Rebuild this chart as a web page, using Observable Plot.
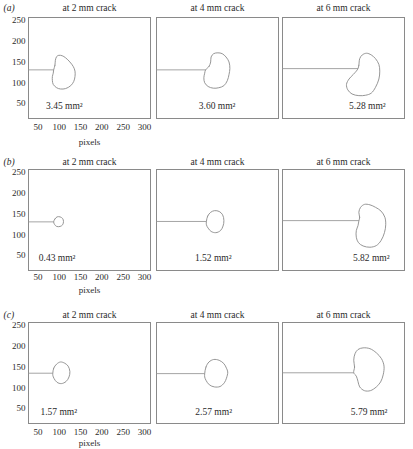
<!DOCTYPE html>
<html><head><meta charset="utf-8">
<script src="https://cdn.jsdelivr.net/npm/d3@7"></script>
<script src="https://cdn.jsdelivr.net/npm/@observablehq/plot@0.6"></script>
<style>
body{margin:0;background:#fff;}
#chart{position:relative;width:413px;height:449px;overflow:hidden;background:#fff;}
#chart svg{position:absolute;overflow:visible;}
</style></head><body><div id="chart"></div>
<script>
const rowLabels = ["(a)", "(b)", "(c)"];
const panelTitles = ["at 2 mm crack", "at 4 mm crack", "at 6 mm crack"];
const areaLabels = [["3.45 mm²", "3.60 mm²", "5.28 mm²"], ["0.43 mm²", "1.52 mm²", "5.82 mm²"], ["1.57 mm²", "2.57 mm²", "5.79 mm²"]];
const areaX = [[112, 170, 227], [95, 161, 236], [99, 162, 231]];
const areaY = [[43, 43, 43], [43, 43, 43], [41, 42, 42]];
const crackY = [[131, 131, 134], [131, 132, 134], [135, 134, 136]];
const crackTipX = [[87, 143, 205], [87, 145, 207], [85, 141, 195]];
const xTicks = [50, 100, 150, 200, 250, 300];
const yTicks = [50, 100, 150, 200, 250];
const xDomain = [28, 314];
const yDomain = [14, 257];

const blobA1 = [[87,131],[90,142],[91,154],[94,163],[99,166],[107,165],[115,160],[125,150],[133,139],[137,128],[137,115],[134,103],[127,93],[115,86],[103,85],[94,88],[86,96],[84,105],[84,115],[86,123]];
const blobA2 = [[143,131],[151,139],[155,150],[156,162],[162,170],[172,172],[182,170],[191,162],[198,150],[200,134],[198,120],[194,105],[186,93],[174,88],[161,87],[149,91],[141,100],[139,112],[141,123]];
const blobA3 = [[205,134],[207,142],[209,158],[215,167],[225,171],[236,167],[246,158],[254,144],[256,128],[254,109],[246,89],[236,75],[223,70],[207,69],[191,73],[181,83],[178,96],[184,109],[194,120],[201,128]];
const blobB1 = [[87,131],[90,138],[95,143],[102,143],[108,139],[110,132],[108,124],[102,120],[94,120],[89,125]];
const blobB2 = [[145,132],[148,145],[155,154],[164,158],[175,156],[183,148],[186,134],[184,121],[178,110],[167,105],[156,108],[149,116],[145,124]];
const blobB3 = [[207,133],[209,142],[207,154],[211,166],[220,173],[233,172],[246,166],[259,157],[268,142],[270,124],[267,105],[259,86],[248,74],[233,70],[217,73],[206,81],[201,94],[201,110],[205,122]];
const blobC1 = [[85,135],[87,147],[94,157],[103,162],[113,159],[121,152],[125,139],[123,126],[116,115],[105,110],[95,113],[88,122],[85,130]];
const blobC2 = [[141,134],[144,150],[151,162],[162,168],[175,166],[186,158],[192,147],[195,138],[192,123],[187,112],[177,103],[164,102],[152,107],[144,118],[141,126]];
const blobC3 = [[195,136],[197,150],[195,166],[198,182],[205,192],[217,196],[233,194],[248,184],[260,170],[266,152],[264,131],[258,114],[248,102],[234,93],[220,93],[209,102],[205,115],[201,128]];
const blobs = [[blobA1, blobA2, blobA3], [blobB1, blobB2, blobB3], [blobC1, blobC2, blobC3]];

// layout
const frameLeft = [28, 156, 282];
const frameTop = [17, 169, 322];
const frameW = 122, frameH = 101;
const titleDy = [-10, -8, -8];
const xTickPad = [5, 3, 5];
const xLabelOffset = [26, 22, 22];
const chart = document.getElementById("chart");
const ink = "#2a2a2a";
const gray = "#8a8a8a";
const thin = "#9a9a9a";

for (let r = 0; r < 3; r++) {
  for (let c = 0; c < 3; c++) {
    const first = c === 0;
    const mL = first ? 28 : 3, mR = 3, mT = 20, mB = first ? 28 : 3;
    const marks = [
      Plot.frame({stroke: gray, strokeWidth: 1}),
      Plot.link([{x1: xDomain[0], x2: crackTipX[r][c], y: crackY[r][c]}], {x1: "x1", x2: "x2", y1: "y", y2: "y", stroke: thin, strokeWidth: 0.9}),
      Plot.line(blobs[r][c], {x: d => d[0], y: d => d[1], curve: "catmull-rom-closed", stroke: gray, strokeWidth: 0.9}),
      Plot.text([{x: areaX[r][c], y: areaY[r][c], t: areaLabels[r][c]}], {x: "x", y: "y", text: "t", fontSize: 9.5, fill: ink}),
      Plot.text([panelTitles[c]], {frameAnchor: "top", dy: titleDy[r], lineAnchor: "middle", fontSize: 9.5, fill: ink})
    ];
    if (first) {
      marks.push(Plot.text([rowLabels[r]], {frameAnchor: "top-left", dx: -25, dy: titleDy[r], textAnchor: "start", lineAnchor: "middle", fontSize: 9.5, fontStyle: "italic", fill: ink}));
    }
    const svg = Plot.plot({
      width: mL + frameW + mR,
      height: mT + frameH + mB,
      marginLeft: mL, marginRight: mR, marginTop: mT, marginBottom: mB,
      style: {fontFamily: "'Liberation Serif', 'DejaVu Serif', serif", fontSize: "9px", color: ink, background: "transparent", overflow: "visible"},
      x: {domain: xDomain, ticks: xTicks, tickSize: 0, tickPadding: xTickPad[r], label: first ? "pixels" : null, labelAnchor: "center", labelOffset: xLabelOffset[r], labelArrow: "none", axis: first ? "bottom" : null},
      y: {domain: yDomain, ticks: yTicks, tickSize: 0, tickPadding: 3, label: null, axis: first ? "left" : null},
      marks
    });
    svg.style.left = (frameLeft[c] - mL) + "px";
    svg.style.top = (frameTop[r] - mT) + "px";
    chart.appendChild(svg);
  }
}
</script></body></html>
